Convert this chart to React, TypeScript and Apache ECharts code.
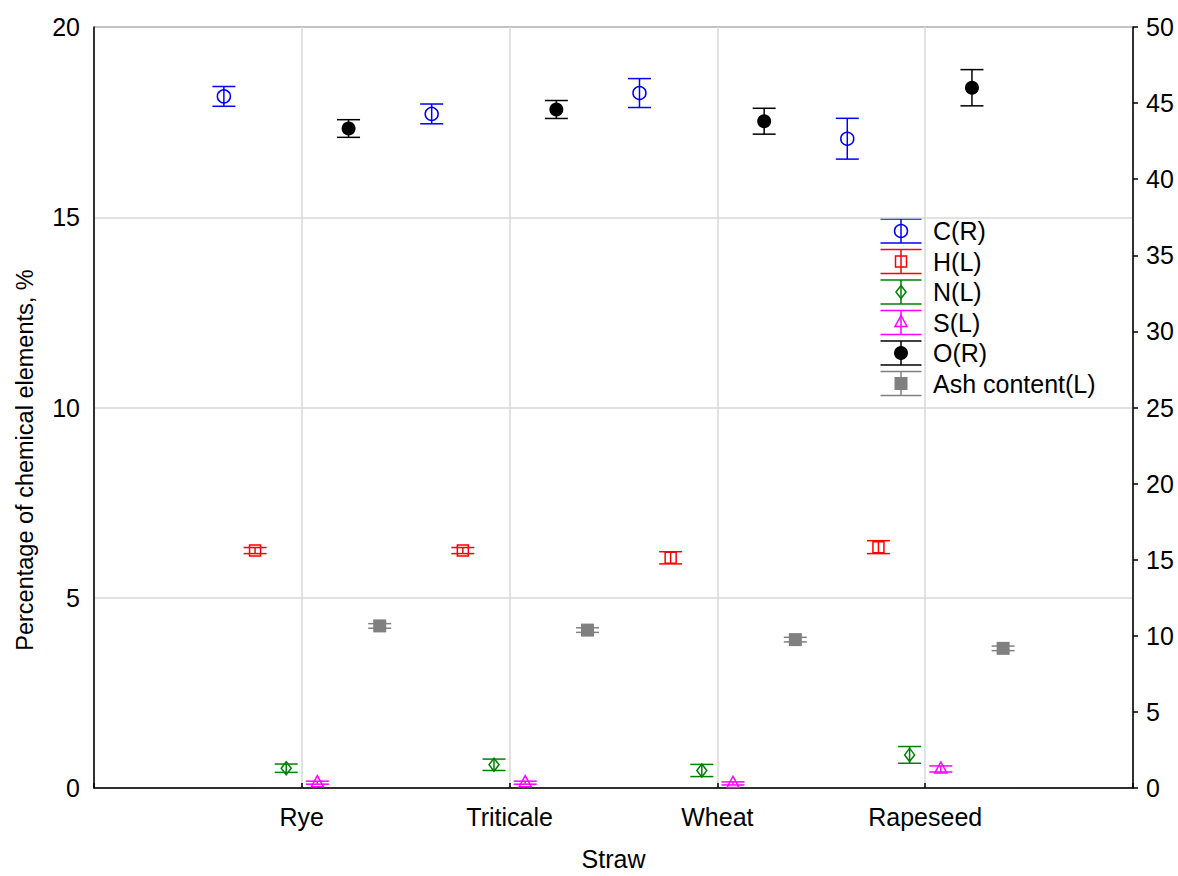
import React, { useEffect, useRef } from "react";
import * as echarts from "echarts";

const categories = ["Rye", "Triticale", "Wheat", "Rapeseed"];
const xTitle = "Straw";
const yTitle = "Percentage of chemical elements, %";

// values per category (Rye, Triticale, Wheat, Rapeseed) and +/- error
const cValues = [45.44, 44.29, 45.66, 42.66];
const cErrors = [0.65, 0.65, 0.95, 1.34];
const hValues = [6.24, 6.24, 6.05, 6.33];
const hErrors = [0.08, 0.08, 0.16, 0.17];
const nValues = [0.52, 0.61, 0.46, 0.87];
const nErrors = [0.11, 0.15, 0.16, 0.22];
const sValues = [0.14, 0.14, 0.12, 0.5];
const sErrors = [0.04, 0.04, 0.04, 0.08];
const oValues = [43.33, 44.58, 43.81, 46.01];
const oErrors = [0.58, 0.59, 0.85, 1.19];
const ashValues = [4.26, 4.15, 3.9, 3.67];
const ashErrors = [0.06, 0.06, 0.06, 0.06];

const leftTicks = [0, 5, 10, 15, 20];
const rightTicks = [0, 5, 10, 15, 20, 25, 30, 35, 40, 45, 50];

type Kind = "circle" | "square" | "diamond" | "triangle" | "dot" | "fsquare";

const seriesDefs: {
  name: string;
  values: number[];
  errors: number[];
  axis: number;
  color: string;
  kind: Kind;
  offset: number;
}[] = [
  { name: "C(R)", values: cValues, errors: cErrors, axis: 1, color: "#0000ff", kind: "circle", offset: -0.375 },
  { name: "H(L)", values: hValues, errors: hErrors, axis: 0, color: "#ff0000", kind: "square", offset: -0.225 },
  { name: "N(L)", values: nValues, errors: nErrors, axis: 0, color: "#008000", kind: "diamond", offset: -0.075 },
  { name: "S(L)", values: sValues, errors: sErrors, axis: 0, color: "#ff00ff", kind: "triangle", offset: 0.075 },
  { name: "O(R)", values: oValues, errors: oErrors, axis: 1, color: "#000000", kind: "dot", offset: 0.225 },
  { name: "Ash content(L)", values: ashValues, errors: ashErrors, axis: 0, color: "#808080", kind: "fsquare", offset: 0.375 },
];

const FONT = "'Liberation Sans', Arial, sans-serif";
const FS = 25;
const LW = 1.5;

function marker(kind: Kind, cx: number, cy: number, color: string): any {
  switch (kind) {
    case "circle":
      return { type: "circle", shape: { cx, cy, r: 6.5 }, style: { fill: "none", stroke: color, lineWidth: LW } };
    case "square":
      return { type: "rect", shape: { x: cx - 5.5, y: cy - 5.5, width: 11, height: 11 }, style: { fill: "none", stroke: color, lineWidth: LW } };
    case "diamond":
      return {
        type: "polygon",
        shape: { points: [[cx, cy - 6.5], [cx + 5, cy], [cx, cy + 6.5], [cx - 5, cy]] },
        style: { fill: "none", stroke: color, lineWidth: LW },
      };
    case "triangle":
      return {
        type: "polygon",
        shape: { points: [[cx, cy - 7], [cx + 6, cy + 4], [cx - 6, cy + 4]] },
        style: { fill: "none", stroke: color, lineWidth: LW },
      };
    case "dot":
      return { type: "circle", shape: { cx, cy, r: 7 }, style: { fill: color, stroke: color, lineWidth: 0 } };
    case "fsquare":
    default:
      return { type: "rect", shape: { x: cx - 6.5, y: cy - 6.5, width: 13, height: 13 }, style: { fill: color } };
  }
}

function errorBar(cx: number, yTop: number, yBot: number, half: number, color: string): any[] {
  const st = { stroke: color, lineWidth: LW };
  return [
    { type: "line", shape: { x1: cx, y1: yTop, x2: cx, y2: yBot }, style: st },
    { type: "line", shape: { x1: cx - half, y1: yTop, x2: cx + half, y2: yTop }, style: st },
    { type: "line", shape: { x1: cx - half, y1: yBot, x2: cx + half, y2: yBot }, style: st },
  ];
}

export default function App() {
  const ref = useRef<HTMLDivElement>(null);
  useEffect(() => {
    if (!ref.current) return;
    const chart = echarts.init(ref.current, undefined, { renderer: "svg" });

    const series = seriesDefs.map((d) => ({
      type: "custom",
      name: d.name,
      coordinateSystem: "cartesian2d",
      xAxisIndex: 0,
      yAxisIndex: d.axis,
      data: d.values.map((v, i) => [i + 1 + d.offset, v, d.errors[i]]),
      renderItem: (params: any, api: any) => {
        const x = api.value(0);
        const y = api.value(1);
        const e = api.value(2);
        const c = api.coord([x, y]);
        const t = api.coord([x, y + e]);
        const b = api.coord([x, y - e]);
        return {
          type: "group",
          children: [marker(d.kind, c[0], c[1], d.color), ...errorBar(c[0], t[1], b[1], 11.5, d.color)],
        };
      },
    }));

    // legend drawn as graphic
    const legendX = 901;
    const legendY0 = 231;
    const legendStep = 30.5;
    const graphics: any[] = [];
    seriesDefs.forEach((d, i) => {
      const cy = legendY0 + i * legendStep;
      graphics.push(marker(d.kind, legendX, cy, d.color));
      errorBar(legendX, cy - 12, cy + 12, 20.5, d.color).forEach((el) => graphics.push(el));
      graphics.push({
        type: "text",
        x: 933,
        y: cy,
        style: { text: d.name, font: `${FS}px ${FONT}`, fill: "#000", verticalAlign: "middle", align: "left" },
      });
    });
    // y axis title
    graphics.push({
      type: "text",
      x: 25,
      y: 460,
      rotation: Math.PI / 2,
      style: { text: yTitle, font: `23.5px ${FONT}`, fill: "#000", verticalAlign: "middle", align: "center" },
    });

    chart.setOption({
      animation: false,
      backgroundColor: "#fff",
      grid: { left: 94, right: 45, top: 27, bottom: 84, show: true, borderColor: "#000", borderWidth: 1, backgroundColor: "transparent" },
      xAxis: {
        type: "value",
        min: 0,
        max: 5,
        interval: 1,
        name: xTitle,
        nameLocation: "middle",
        nameGap: 58,
        nameTextStyle: { fontSize: FS, fontFamily: FONT, color: "#000" },
        axisLine: { show: true, lineStyle: { color: "#000", width: 1.5 } },
        axisTick: { show: true, inside: true, length: 5, lineStyle: { color: "#000", width: 1.5 } },
        axisLabel: {
          fontSize: FS,
          fontFamily: FONT,
          color: "#000",
          margin: 16,
          formatter: (v: number) => categories[Math.round(v) - 1] ?? "",
        },
        splitLine: { show: true, lineStyle: { color: "#d9d9d9", width: 1.5 } },
      },
      yAxis: [
        {
          type: "value",
          min: leftTicks[0],
          max: leftTicks[leftTicks.length - 1],
          interval: leftTicks[1] - leftTicks[0],
          position: "left",
          axisLine: { show: true, lineStyle: { color: "#000", width: 1.5 } },
          axisTick: { show: false },
          axisLabel: { fontSize: FS, fontFamily: FONT, color: "#000", margin: 14 },
          splitLine: { show: true, lineStyle: { color: "#d9d9d9", width: 1.5 } },
        },
        {
          type: "value",
          min: rightTicks[0],
          max: rightTicks[rightTicks.length - 1],
          interval: rightTicks[1] - rightTicks[0],
          position: "right",
          axisLine: { show: true, lineStyle: { color: "#000", width: 1.5 } },
          axisTick: { show: true, inside: false, length: 5, lineStyle: { color: "#000", width: 1.5 } },
          axisLabel: { fontSize: FS, fontFamily: FONT, color: "#000", margin: 13 },
          splitLine: { show: false },
        },
      ],
      graphic: graphics,
      series,
    });
    return () => chart.dispose();
  }, []);
  return <div ref={ref} style={{ position: "fixed", left: 0, top: 0, width: 1178, height: 876 }} />;
}
